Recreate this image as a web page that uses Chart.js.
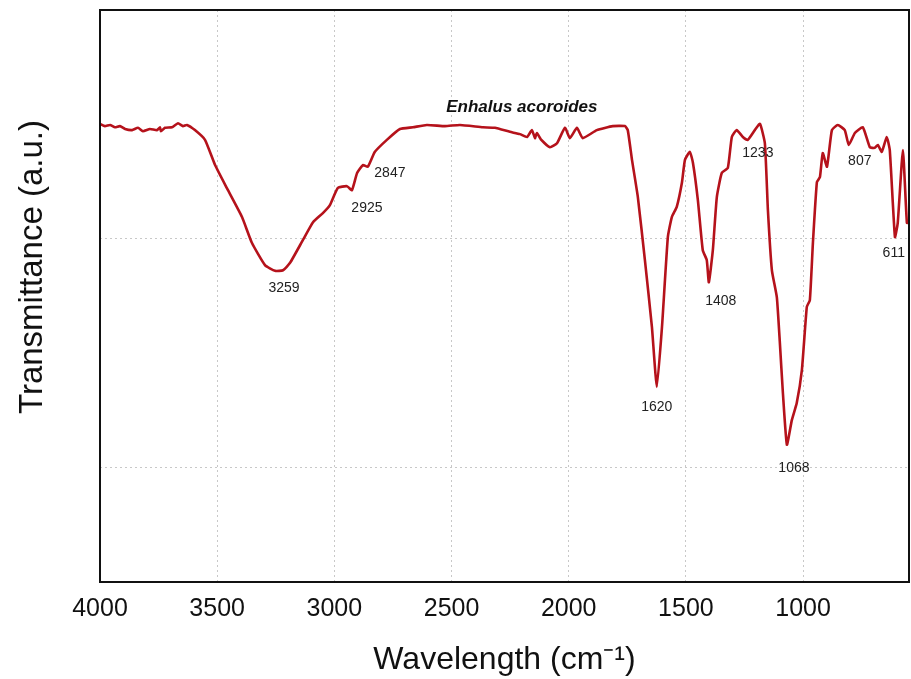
<!DOCTYPE html>
<html>
<head>
<meta charset="utf-8">
<script src="https://cdn.jsdelivr.net/npm/chart.js"></script>
<style>
  html, body { margin: 0; padding: 0; background: #fff; }
</style>
</head>
<body>
<canvas id="ftirChart" width="911" height="679"></canvas>
<script>
// FTIR 스펙트럼 (값은 그림에서 읽음)
const wavenumbers = [
  4000, 3979, 3957, 3936, 3915, 3893, 3863, 3838, 3817, 3787,
  3757, 3744, 3740, 3723, 3693, 3667, 3646, 3629, 3595, 3552,
  3509, 3454, 3394, 3352, 3296, 3253, 3219, 3189, 3134, 3091,
  3049, 3019, 2985, 2946, 2925, 2903, 2878, 2857, 2827, 2776,
  2720, 2665, 2605, 2528, 2464, 2366, 2315, 2251, 2208, 2178,
  2157, 2144, 2136, 2119, 2080, 2050, 2016, 1995, 1965, 1940,
  1880, 1812, 1760, 1748, 1730, 1705, 1675, 1645, 1624, 1602,
  1577, 1560, 1539, 1517, 1504, 1483, 1470, 1449, 1428, 1411,
  1402, 1385, 1368, 1347, 1321, 1304, 1283, 1257, 1236, 1206,
  1184, 1163, 1150, 1133, 1112, 1099, 1086, 1069, 1048, 1027,
  1005, 984, 971, 958, 941, 928, 916, 898, 877, 852,
  822, 805, 779, 745, 715, 694, 681, 664, 643, 630,
  608, 596, 574, 557, 548
];
const transmittance = [
  80.1, 79.7, 79.9, 79.5, 79.7, 79.2, 79.0, 79.4, 78.8, 79.2,
  79.0, 79.5, 78.8, 79.4, 79.5, 80.2, 79.7, 79.9, 79.0, 77.3,
  72.9, 68.5, 63.8, 59.3, 55.4, 54.4, 54.5, 55.8, 59.8, 62.9,
  64.5, 65.9, 68.9, 69.2, 68.5, 71.5, 72.9, 72.6, 75.2, 77.3,
  79.2, 79.5, 79.9, 79.7, 79.9, 79.5, 79.4, 78.7, 78.3, 77.8,
  79.0, 77.6, 78.5, 77.4, 76.0, 76.7, 79.4, 77.6, 79.4, 77.6,
  79.0, 79.7, 79.7, 79.0, 73.8, 67.3, 56.3, 44.6, 34.1, 44.6,
  60.3, 63.8, 65.6, 69.8, 73.8, 75.2, 73.3, 66.8, 58.0, 56.3,
  52.4, 58.0, 67.3, 71.5, 72.4, 77.8, 79.0, 77.8, 77.3, 79.0,
  80.1, 76.7, 65.0, 54.5, 49.8, 41.8, 33.0, 24.0, 28.3, 31.3,
  37.1, 48.1, 49.3, 59.3, 69.9, 70.8, 75.0, 72.6, 79.0, 79.9,
  79.0, 76.4, 78.5, 79.5, 76.0, 75.9, 76.4, 75.2, 77.8, 75.5,
  60.3, 62.8, 75.5, 62.8, 62.8
];

// 축 눈금
const xTickValues = [4000, 3500, 3000, 2500, 2000, 1500, 1000];
const yGridValues = [20, 60];

// 피크 라벨 (텍스트, 라벨 위치 x, y)
const peakTexts = ['3259', '2925', '2847', '1620', '1408', '1233', '1068', '807', '611'];
const peakTextX = [3215, 2861, 2763, 1624, 1351, 1193, 1039, 758, 613];
const peakTextY = [51.4, 65.4, 71.5, 30.6, 49.1, 75.0, 19.9, 73.6, 57.5];

const sampleName = 'Enhalus acoroides';
const sampleNameX = 2200;
const sampleNameY = 82.9;

const yTitle = 'Transmittance (a.u.)';

const FONT = "'Liberation Sans', Arial, sans-serif";

// 플롯 영역 테두리
const frameBox = {
  id: 'frameBox',
  afterDraw(chart) {
    const { ctx, chartArea } = chart;
    ctx.save();
    ctx.strokeStyle = '#111';
    ctx.lineWidth = 2;
    ctx.strokeRect(chartArea.left, chartArea.top, chartArea.right - chartArea.left, chartArea.bottom - chartArea.top);
    ctx.restore();
  }
};

// y축 제목 (원본은 플롯 중앙보다 약간 위에 있음)
const yAxisTitle = {
  id: 'yAxisTitle',
  afterDraw(chart) {
    const { ctx, chartArea } = chart;
    ctx.save();
    ctx.translate(33, (chartArea.top + chartArea.bottom) / 2 - 29);
    ctx.rotate(-Math.PI / 2);
    ctx.fillStyle = '#111';
    ctx.textAlign = 'center';
    ctx.textBaseline = 'middle';
    ctx.font = `33px ${FONT}`;
    ctx.fillText(yTitle, 0, 0);
    ctx.restore();
  }
};

// 피크 번호 + 시료명
const peakLabels = {
  id: 'peakLabels',
  afterDatasetsDraw(chart) {
    const { ctx, scales } = chart;
    ctx.save();
    ctx.fillStyle = '#222';
    ctx.textAlign = 'center';
    ctx.textBaseline = 'middle';
    ctx.font = `14px ${FONT}`;
    peakTexts.forEach((t, i) => {
      ctx.fillText(t, scales.x.getPixelForValue(peakTextX[i]), scales.y.getPixelForValue(peakTextY[i]));
    });
    ctx.font = `italic bold 17px ${FONT}`;
    ctx.fillStyle = '#111';
    ctx.fillText(sampleName, scales.x.getPixelForValue(sampleNameX), scales.y.getPixelForValue(sampleNameY));
    ctx.restore();
  }
};

const points = wavenumbers.map((w, i) => ({ x: w, y: transmittance[i] }));

new Chart(document.getElementById('ftirChart').getContext('2d'), {
  type: 'line',
  data: {
    datasets: [{
      label: sampleName,
      data: points,
      borderColor: '#b5121b',
      borderWidth: 2.6,
      pointRadius: 0,
      tension: 0.15,
      fill: false
    }]
  },
  options: {
    responsive: false,
    animation: false,
    layout: { padding: { top: 10, right: 2, left: 0, bottom: 0 } },
    plugins: {
      legend: { display: false },
      tooltip: { enabled: false }
    },
    scales: {
      x: {
        type: 'linear',
        reverse: true,
        min: 548,
        max: 4000,
        afterBuildTicks: s => { s.ticks = xTickValues.map(v => ({ value: v })); },
        afterFit: s => { s.height = 97; },
        grid: { color: '#c8c8c8', lineWidth: 1, drawTicks: false },
        border: { display: false, dash: [2, 3] },
        ticks: {
          color: '#111',
          padding: 12,
          maxRotation: 0,
          autoSkip: false,
          callback: v => String(v),
          font: { family: FONT, size: 25 }
        },
        title: {
          display: true,
          text: 'Wavelength (cm⁻¹)',
          color: '#111',
          padding: { top: 0, bottom: 0 },
          font: { family: FONT, size: 32 }
        }
      },
      y: {
        min: 0,
        max: 100,
        afterBuildTicks: s => { s.ticks = yGridValues.map(v => ({ value: v })); },
        afterFit: s => { s.width = 100; },
        grid: { color: '#c8c8c8', lineWidth: 1, drawTicks: false },
        border: { display: false, dash: [2, 3] },
        ticks: { display: false },
        title: { display: false }
      }
    }
  },
  plugins: [frameBox, yAxisTitle, peakLabels]
});
</script>
</body>
</html>
